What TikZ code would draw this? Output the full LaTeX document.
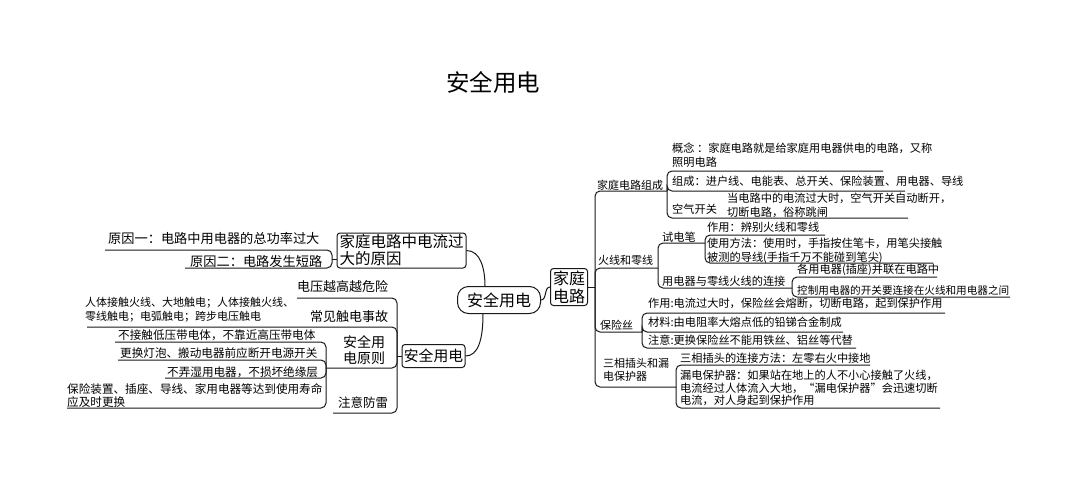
\documentclass[tikz,border=0pt]{standalone}
\usepackage{fontspec}
\setmainfont{Noto Sans CJK SC}
\usetikzlibrary{calc}
\newcommand\myfs[2]{\fontsize{#1}{#2}\selectfont}
\tikzset{
  conn/.style={draw=black!90, line width=1pt, rounded corners=5pt},
  curve/.style={draw=black!90, line width=1pt},
  txt/.style={inner sep=0pt, anchor=west, align=left, font=\myfs{11.2}{14}},
  box/.style={draw=black!90, line width=1pt, rounded corners=3pt, inner sep=0pt},
}
\begin{document}
\begin{tikzpicture}[x=1pt,y=-1pt]
\fill[white] (0,0) rectangle (1080,480);
\useasboundingbox (0,0) rectangle (1080,480);

% title
\node[inner sep=0pt, font=\myfs{23.5}{28}] (title) at (493,82) {安全用电};

% central and main boxes
\node[draw=black!90, line width=1pt, rounded corners=11pt, minimum width=83pt, minimum height=27pt, inner sep=0pt, font=\myfs{16}{20}] (C) at (499,300) {安全用电};
\node[box, minimum width=37pt, minimum height=37pt, align=center, font=\myfs{16}{18}] (K) at (569,287) {家庭\\电路};
\node[box, minimum width=129pt, minimum height=35pt, align=left, font=\myfs{15.5}{17}] (A) at (401.5,250.5) {家庭电路中电流过\\大的原因};
\node[box, minimum width=63pt, minimum height=23pt, font=\myfs{14.8}{17}] (S) at (433.5,356) {安全用电};

\coordinate (Ctop) at ($(C.north)+(-14,0)$);
\coordinate (Cbot) at ($(C.south)+(-16,0)$);
\draw[curve] (A.east) .. controls (481,250.5) and (485,270) .. (Ctop);
\draw[curve] (Cbot) .. controls (483,340) and (478,356) .. (S.east);
\draw[curve] (C.east) .. controls (547,300) and (544,287) .. (K.west);

% ===== right tree =====
\coordinate (P0) at (595,287);
\draw[conn] (K.east) -- (P0);

% 家庭电路组成
\coordinate (P1) at (667,191);
\node[txt, font=\myfs{11}{14}] (zc) at (597,185) {家庭电路组成};
\draw[conn] (P0) |- (P1);
\coordinate (g1) at (883,171);
\node[txt] (tg1) at (672,155.5) {概念 ：家庭电路就是给家庭用电器供电的电路，又称\\照明电路};
\draw[conn] (P1) |- (g1);
\coordinate (g2) at (905,191);
\node[txt] (tg2) at (672,181) {组成：进户线、电能表、总开关、保险装置、用电器、导线};
\draw[conn] (P1) |- (g2);
\coordinate (g3) at (908,218);
\node[txt] (tg3) at (672,209) {空气开关};
\node[txt] (tg3b) at (727,205) {当电路中的电流过大时，空气开关自动断开，\\切断电路，俗称跳闸};
\draw[conn] (P1) |- (g3);

% 火线和零线
\coordinate (P2) at (658,268);
\node[txt, font=\myfs{11}{14}] (hx) at (598,260) {火线和零线};
\draw[conn] (P0) |- (P2);
\coordinate (P2a) at (705,243);
\node[txt] (sdb) at (662,237) {试电笔};
\draw[conn] (P2) |- (P2a);
\coordinate (h1) at (825,235);
\node[txt] (th1) at (707,227) {作用：辨别火线和零线};
\draw[conn] (P2a) |- (h1);
\coordinate (h2) at (933,263);
\node[txt] (th2) at (707,250.5) {使用方法：使用时，手指按住笔卡，用笔尖接触\\被测的导线(手指千万不能碰到笔尖)};
\draw[conn] (P2a) |- (h2);
\coordinate (P2b) at (792,288);
\node[txt] (ydq) at (662,281) {用电器与零线火线的连接};
\draw[conn] (P2) |- (P2b);
\coordinate (h3) at (937,277);
\node[txt] (th3) at (797,270) {各用电器(插座)并联在电路中};
\draw[conn] (P2b) |- (h3);
\coordinate (h4) at (1010,297);
\node[txt, font=\myfs{10.6}{14}] (th4) at (797,290) {控制用电器的开关要连接在火线和用电器之间};
\draw[conn] (P2b) |- (h4);

% 保险丝
\coordinate (P3) at (642,332);
\node[txt, font=\myfs{11}{14}] (bxs) at (600,325) {保险丝};
\draw[conn] (P0) |- (P3);
\coordinate (b1) at (945,313);
\node[txt] (tb1) at (648,303) {作用:电流过大时，保险丝会熔断，切断电路，起到保护作用};
\draw[conn] (P3) |- (b1);
\coordinate (b2) at (843,332);
\node[txt] (tb2) at (648,322) {材料:由电阻率大熔点低的铅锑合金制成};
\draw[conn] (P3) |- (b2);
\coordinate (b3) at (856,348);
\node[txt] (tb3) at (648,340) {注意:更换保险丝不能用铁丝、铝丝等代替};
\draw[conn] (P3) |- (b3);

% 三相插头和漏电保护器
\coordinate (P4) at (676,387);
\node[txt, font=\myfs{11}{13}] (sx) at (603,370) {三相插头和漏\\电保护器};
\draw[conn] (P0) |- (P4);
\coordinate (s1) at (870,365);
\node[txt] (ts1) at (680,358) {三相插头的连接方法：左零右火中接地};
\draw[conn] (P4) |- (s1);
\coordinate (s2) at (940,408);
\node[txt, font=\myfs{11.2}{12.5}] (ts2) at (680,388) {漏电保护器：如果站在地上的人不小心接触了火线，\\电流经过人体流入大地，“漏电保护器”会迅速切断\\电流，对人身起到保护作用};
\draw[conn] (P4) |- (s2);

% ===== left tree: 家庭电路中电流过大的原因 =====
\coordinate (PA) at (332,259);
\draw[conn] (A.west |- PA) -- (PA);
\coordinate (r1) at (105,250);
\node[txt, font=\myfs{13.2}{16}] (tr1) at (108,238) {原因一：电路中用电器的总功率过大};
\draw[conn] (PA) |- (r1);
\coordinate (r2) at (185,268);
\node[txt, font=\myfs{13.2}{16}] (tr2) at (190,261) {原因二：电路发生短路};
\draw[conn] (PA) |- (r2);

% ===== left tree: 安全用电 =====
\coordinate (PS) at (397,356);
\draw[conn] (S.west) -- (PS);
\coordinate (l1) at (297,298);
\node[txt, font=\myfs{13}{16}] (tl1) at (297,287) {电压越高越危险};
\draw[conn] (PS) |- (l1);
\coordinate (l2) at (87,327);
\node[txt, font=\myfs{13}{16}] (tl2) at (310,317) {常见触电事故};
\node[txt, font=\myfs{11}{14}] (tl2b) at (85,310) {人体接触火线、大地触电；人体接触火线、\\零线触电；电弧触电；跨步电压触电};
\draw[conn] (PS) |- (l2);
\coordinate (PR) at (326,368);
\node[txt, align=center, font=\myfs{14}{16}] (tl3) at (343,350.5) {安全用\\电原则};
\draw[conn] (PS) |- (PR);
\coordinate (q1) at (115,342);
\node[txt, font=\myfs{11.6}{14}] (tq1) at (118,335) {不接触低压带电体，不靠近高压带电体};
\draw[conn] (PR) |- (q1);
\coordinate (q2) at (118,360);
\node[txt, font=\myfs{11.6}{14}] (tq2) at (120,353) {更换灯泡、搬动电器前应断开电源开关};
\draw[conn] (PR) |- (q2);
\coordinate (q3) at (165,378);
\node[txt, font=\myfs{11.6}{14}] (tq3) at (167,372) {不弄湿用电器，不损坏绝缘层};
\draw[conn] (PR) |- (q3);
\coordinate (q4) at (67,408);
\node[txt, font=\myfs{11.6}{13}] (tq4) at (67,395.5) {保险装置、插座、导线、家用电器等达到使用寿命\\应及时更换};
\draw[conn] (PR) |- (q4);
\coordinate (l4) at (333,413);
\node[txt, font=\myfs{12.5}{15}] (tl4) at (338,403) {注意防雷};
\draw[conn] (PS) |- (l4);
\end{tikzpicture}
\end{document}
